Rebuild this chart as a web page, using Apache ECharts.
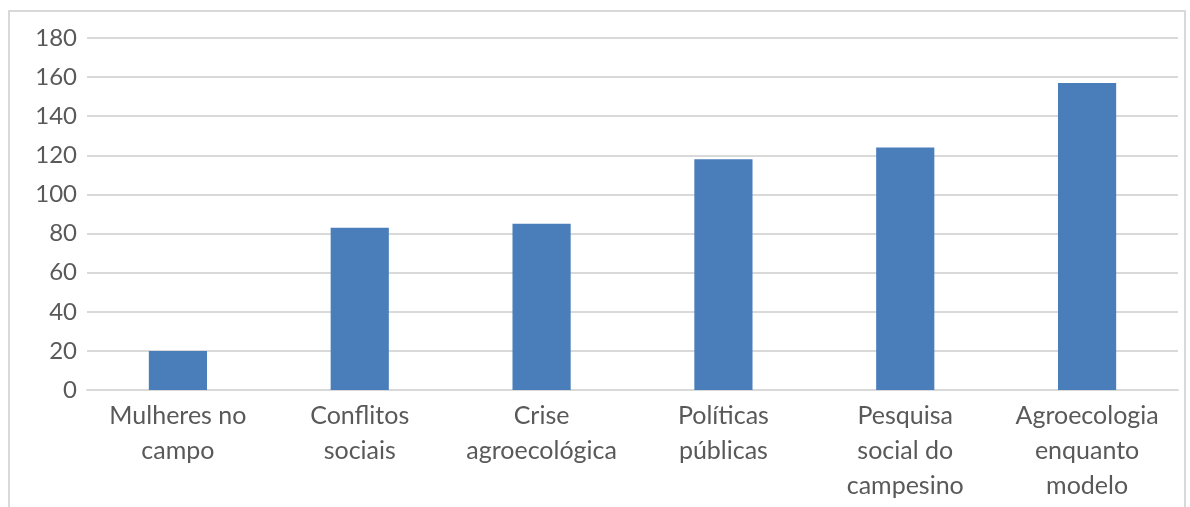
<!DOCTYPE html>
<html><head><meta charset="utf-8">
<script src="https://cdn.jsdelivr.net/npm/echarts@6/dist/echarts.min.js"></script>
<style>
html,body{margin:0;padding:0;background:#fff;overflow:hidden;}
#frame{position:absolute;left:8px;top:10px;width:1178px;height:520px;border:2px solid #d9d9d9;box-sizing:border-box;}
#c{position:absolute;left:0;top:0;width:1190px;height:507px;}
</style></head>
<body>
<div id="frame"></div>
<div id="c"></div>
<script>
const categories = ["Mulheres no\ncampo","Conflitos\nsociais","Crise\nagroecológica","Políticas\npúblicas","Pesquisa\nsocial do\ncampesino","Agroecologia\nenquanto\nmodelo"];
const values = [20, 83, 85, 118, 124, 157];
const yTicks = {min:0, max:180, interval:20};

const chart = echarts.init(document.getElementById('c'));
chart.setOption({
  animation:false,
  grid:{left:87, right:12, top:38, bottom:117, containLabel:false},
  xAxis:{type:'category', data:categories,
    axisLine:{lineStyle:{color:'#d9d9d9', width:2}},
    axisTick:{show:false},
    axisLabel:{color:'#595959', fontFamily:'Lato', fontSize:25, lineHeight:35, margin:8, interval:0}
  },
  yAxis:{type:'value', min:yTicks.min, max:yTicks.max, interval:yTicks.interval,
    axisLine:{show:false}, axisTick:{show:false},
    axisLabel:{color:'#595959', fontFamily:'Lato', fontSize:24, margin:10},
    splitLine:{lineStyle:{color:'#d9d9d9', width:2}}
  },
  series:[{type:'bar', data:values, barWidth:'32%', itemStyle:{color:'#4a7ebb'}}]
});
</script>
</body></html>
